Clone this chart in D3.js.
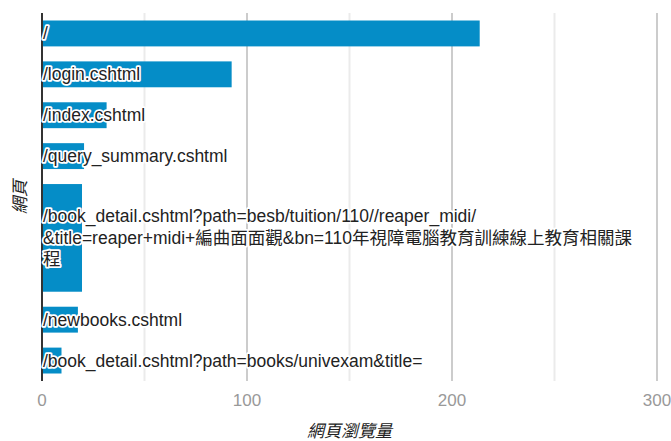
<!DOCTYPE html>
<html>
<head>
<meta charset="utf-8">
<script src="https://cdn.jsdelivr.net/npm/d3@7.9.0/dist/d3.min.js"></script>
<style>
  body { margin: 0; background: #fff; }
  svg { display: block; font-family: Arial, "Liberation Sans", "Noto Sans CJK TC", sans-serif; }
</style>
</head>
<body>
<svg width="671" height="441"></svg>
<script>
// page labels (line breaks as shown in the chart)
const pages = [
  '/',
  '/login.cshtml',
  '/index.cshtml',
  '/query_summary.cshtml',
  '/book_detail.cshtml?path=besb/tuition/110//reaper_midi/\n&title=reaper+midi+編曲面面觀&bn=110年視障電腦教育訓練線上教育相關課\n程',
  '/newbooks.cshtml',
  '/book_detail.cshtml?path=books/univexam&title='
];
const views = [214, 93, 32, 21, 20, 18, 10];
const xTicks = [0, 100, 200, 300];
const xMinorTicks = [50, 150, 250];
const xTitle = '網頁瀏覽量';
const yTitle = '網頁';

const svg = d3.select('svg');
const plotLeft = 41, plotRight = 656, plotTop = 13, plotBottom = 381;

const x = d3.scaleLinear().domain([0, 300]).range([plotLeft, plotRight]);

// each row takes as many slots as its label has lines
let rows = [];
let cum = 0;
pages.forEach((p, i) => {
  const lines = p.split('\n');
  rows.push({ label: p, lines: lines, value: views[i], start: cum, w: lines.length });
  cum += lines.length;
});
const y = d3.scaleLinear().domain([0, cum]).range([plotTop, plotBottom]);
const pad = 7.5;

// gridlines
svg.append('g').selectAll('line').data(xMinorTicks).join('line')
  .attr('x1', d => x(d) + 1).attr('x2', d => x(d) + 1)
  .attr('y1', plotTop).attr('y2', plotBottom)
  .attr('stroke', '#ebebeb').attr('stroke-width', 2);
svg.append('g').selectAll('line').data(xTicks.filter(d => d > 0)).join('line')
  .attr('x1', d => x(d) + 1).attr('x2', d => x(d) + 1)
  .attr('y1', plotTop).attr('y2', plotBottom)
  .attr('stroke', '#cccccc').attr('stroke-width', 2);

// bars
svg.append('g').selectAll('rect').data(rows).join('rect')
  .attr('x', x(0) + 1)
  .attr('y', d => y(d.start) + pad)
  .attr('width', d => x(d.value) - x(0) - 1)
  .attr('height', d => y(d.start + d.w) - y(d.start) - 2 * pad)
  .attr('fill', '#058dc7');

// baseline
svg.append('line')
  .attr('x1', x(0) + 1).attr('x2', x(0) + 1)
  .attr('y1', plotTop).attr('y2', plotBottom)
  .attr('stroke', '#333').attr('stroke-width', 2);

// labels inside bars, with white halo
const lh = 21.5;
const labels = svg.append('g');
rows.forEach(r => {
  const mid = (y(r.start) + y(r.start + r.w)) / 2;
  const n = r.lines.length;
  r.lines.forEach((ln, j) => {
    const ty = mid + (j - (n - 1) / 2) * lh + 6;
    labels.append('text')
      .attr('x', x(0) + 2).attr('y', ty)
      .attr('font-size', 17.5)
      .attr('fill', 'none').attr('stroke', '#fff')
      .attr('stroke-width', 3.5).attr('stroke-linejoin', 'round')
      .text(ln);
    labels.append('text')
      .attr('x', x(0) + 2).attr('y', ty)
      .attr('font-size', 17.5)
      .attr('fill', '#222')
      .text(ln);
  });
});

// x tick labels
svg.append('g').selectAll('text').data(xTicks).join('text')
  .attr('x', d => x(d) + 1)
  .attr('y', 406)
  .attr('text-anchor', 'middle')
  .attr('font-size', 17)
  .attr('fill', '#999')
  .text(d => d);

// axis titles
svg.append('text')
  .attr('x', (plotLeft + plotRight) / 2 + 1)
  .attr('y', 437)
  .attr('text-anchor', 'middle')
  .attr('font-size', 17)
  .attr('font-style', 'italic')
  .attr('fill', '#222')
  .text(xTitle);

svg.append('text')
  .attr('transform', `translate(26, ${(plotTop + plotBottom) / 2}) rotate(-90)`)
  .attr('text-anchor', 'middle')
  .attr('font-size', 17)
  .attr('font-style', 'italic')
  .attr('fill', '#222')
  .text(yTitle);
</script>
</body>
</html>
